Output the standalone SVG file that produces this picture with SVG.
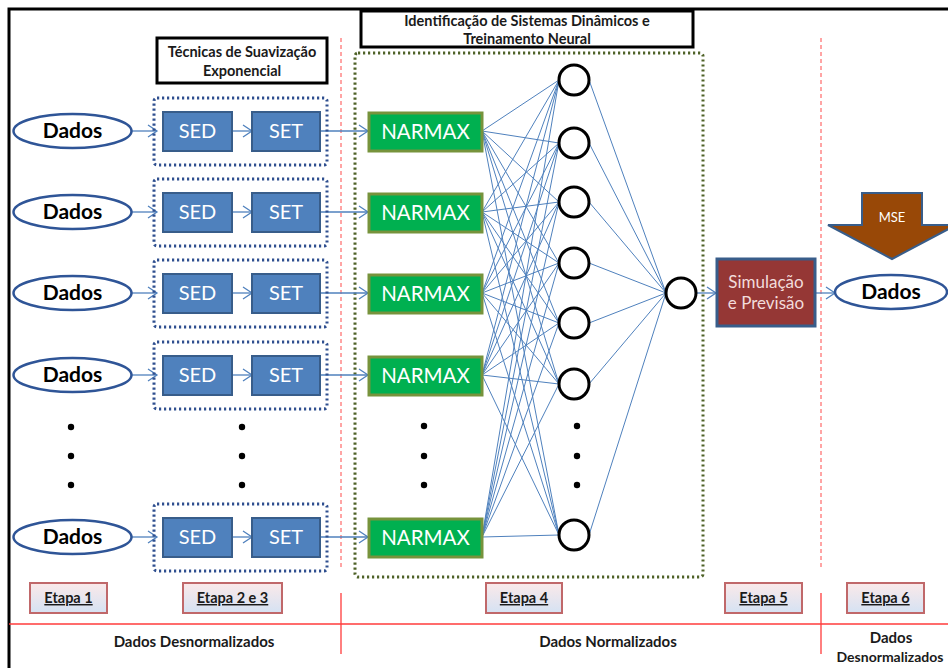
<svg xmlns="http://www.w3.org/2000/svg" width="948" height="668" viewBox="0 0 948 668">
<defs>
<marker id="arr" markerUnits="userSpaceOnUse" markerWidth="12" markerHeight="14" refX="10" refY="7" orient="auto">
<path d="M1,1 L10,7 L1,13" fill="none" stroke="#4f81bd" stroke-width="1.3"/>
</marker>
<linearGradient id="etg" x1="0" y1="0" x2="0" y2="1">
<stop offset="0" stop-color="#fbe9e9"/>
<stop offset="1" stop-color="#d5e2f3"/>
</linearGradient>
<style>
.t{font-family:Lato,"Liberation Sans",sans-serif;}
.dados{fill:#fff;stroke:#2f5597;stroke-width:2.5;}
.dt{font-family:Lato,"Liberation Sans",sans-serif;font-weight:bold;font-size:21px;fill:#000;text-anchor:middle;}
.grp{fill:none;stroke:#2f4f8f;stroke-width:3;stroke-dasharray:2.2 2.8;}
.blk{fill:#4f81bd;stroke:#385d8a;stroke-width:2;}
.bt{font-family:Lato,"Liberation Sans",sans-serif;font-size:20px;fill:#fff;text-anchor:middle;}
.nx{fill:#00b050;stroke:#77933c;stroke-width:3;}
.nxt{font-family:Lato,"Liberation Sans",sans-serif;font-size:20.5px;fill:#fff;text-anchor:middle;}
.neu{fill:#fff;stroke:#000;stroke-width:3;}
.cn{stroke:#4f81bd;stroke-width:1;fill:none;}
.ar{stroke:#4f81bd;stroke-width:1.3;fill:none;marker-end:url(#arr);}
.hdr{fill:#fff;stroke:#000;stroke-width:3;}
.ht{font-family:Lato,"Liberation Sans",sans-serif;font-weight:bold;font-size:14.5px;fill:#1a1a1a;text-anchor:middle;}
.et{fill:url(#etg);stroke:#c0686a;stroke-width:2;}
.ett{font-family:Lato,"Liberation Sans",sans-serif;font-weight:bold;font-size:14.5px;fill:#1a1a1a;text-anchor:middle;text-decoration:underline;}
.bl{font-family:Lato,"Liberation Sans",sans-serif;font-weight:bold;font-size:15px;fill:#1a1a1a;text-anchor:middle;}
.rd{stroke:#ff4b4b;stroke-width:1;stroke-dasharray:4 3;}
.rs{stroke:#ff3b3b;stroke-width:1.3;}
</style>
</defs>

<rect x="0" y="0" width="948" height="668" fill="#fff"/>
<rect x="9" y="9" width="970" height="700" fill="none" stroke="#000" stroke-width="3"/>

<g id="dividers">
<line class="rd" x1="341" y1="38" x2="341" y2="570"/>
<line class="rd" x1="821" y1="38" x2="821" y2="570"/>
<line class="rs" x1="341" y1="593" x2="341" y2="654"/>
<line class="rs" x1="821" y1="593" x2="821" y2="654"/>
<line class="rs" x1="9" y1="624" x2="948" y2="624"/>
</g>

<g id="hdr1">
<rect class="hdr" x="157" y="38" width="170" height="45"/>
<text class="ht" x="242" y="57">Técnicas de Suavização</text>
<text class="ht" x="242" y="76">Exponencial</text>
</g>
<g id="hdr2">
<rect class="hdr" x="361" y="11" width="332" height="36"/>
<text class="ht" x="527" y="26">Identificação de Sistemas Dinâmicos e</text>
<text class="ht" x="527" y="44">Treinamento Neural</text>
</g>

<g id="nnbox">
<rect x="355" y="53" width="348" height="524" rx="3" fill="none" stroke="#4f6228" stroke-width="3" stroke-dasharray="2.2 2.8"/>
</g>

<g id="connectors">
<line class="ar" x1="132" y1="131" x2="157" y2="131"/>
<line class="ar" x1="232" y1="131" x2="252" y2="131"/>
<line class="ar" x1="320" y1="131" x2="368" y2="131"/>
<line class="ar" x1="132" y1="212" x2="157" y2="212"/>
<line class="ar" x1="232" y1="212" x2="252" y2="212"/>
<line class="ar" x1="320" y1="212" x2="368" y2="212"/>
<line class="ar" x1="132" y1="293" x2="157" y2="293"/>
<line class="ar" x1="232" y1="293" x2="252" y2="293"/>
<line class="ar" x1="320" y1="293" x2="368" y2="293"/>
<line class="ar" x1="132" y1="375" x2="157" y2="375"/>
<line class="ar" x1="232" y1="375" x2="252" y2="375"/>
<line class="ar" x1="320" y1="375" x2="368" y2="375"/>
<line class="ar" x1="132" y1="537" x2="157" y2="537"/>
<line class="ar" x1="232" y1="537" x2="252" y2="537"/>
<line class="ar" x1="320" y1="537" x2="368" y2="537"/>
<path class="cn" d="M482,131 L559,80 M482,131 L559,143 M482,131 L559,202 M482,131 L559,263 M482,131 L559,323 M482,131 L559,384 M482,131 L559,535
M482,212 L559,80 M482,212 L559,143 M482,212 L559,202 M482,212 L559,263 M482,212 L559,323 M482,212 L559,384 M482,212 L559,535
M482,293 L559,80 M482,293 L559,143 M482,293 L559,202 M482,293 L559,263 M482,293 L559,323 M482,293 L559,384 M482,293 L559,535
M482,375 L559,80 M482,375 L559,143 M482,375 L559,202 M482,375 L559,263 M482,375 L559,323 M482,375 L559,384 M482,375 L559,535
M482,537 L559,80 M482,537 L559,143 M482,537 L559,202 M482,537 L559,263 M482,537 L559,323 M482,537 L559,384 M482,537 L559,535"/>
<path class="cn" d="M589,80 L666,293 M589,143 L666,293 M589,202 L666,293 M589,263 L666,293 M589,323 L666,293 M589,384 L666,293 M589,535 L666,293"/>
<line class="ar" x1="696" y1="293" x2="716" y2="293"/>
<line class="ar" x1="815" y1="293" x2="835" y2="293"/>
</g>

<g id="row1">
<ellipse class="dados" cx="72.5" cy="131" rx="59" ry="17"/>
<text class="dt" x="72.5" y="138">Dados</text>
<rect class="grp" x="154" y="98" width="173" height="67" rx="3"/>
<rect class="blk" x="163" y="112" width="69" height="39"/>
<text class="bt" x="197.5" y="138">SED</text>
<rect class="blk" x="252" y="112" width="68" height="39"/>
<text class="bt" x="286" y="138">SET</text>
<rect class="nx" x="369" y="113" width="113" height="38"/>
<text class="nxt" x="425.5" y="139">NARMAX</text>
</g>
<g id="row2">
<ellipse class="dados" cx="72.5" cy="212" rx="59" ry="17"/>
<text class="dt" x="72.5" y="219">Dados</text>
<rect class="grp" x="154" y="179" width="173" height="67" rx="3"/>
<rect class="blk" x="163" y="193" width="69" height="39"/>
<text class="bt" x="197.5" y="219">SED</text>
<rect class="blk" x="252" y="193" width="68" height="39"/>
<text class="bt" x="286" y="219">SET</text>
<rect class="nx" x="369" y="194" width="113" height="38"/>
<text class="nxt" x="425.5" y="220">NARMAX</text>
</g>
<g id="row3">
<ellipse class="dados" cx="72.5" cy="293" rx="59" ry="17"/>
<text class="dt" x="72.5" y="300">Dados</text>
<rect class="grp" x="154" y="260" width="173" height="67" rx="3"/>
<rect class="blk" x="163" y="274" width="69" height="39"/>
<text class="bt" x="197.5" y="300">SED</text>
<rect class="blk" x="252" y="274" width="68" height="39"/>
<text class="bt" x="286" y="300">SET</text>
<rect class="nx" x="369" y="275" width="113" height="38"/>
<text class="nxt" x="425.5" y="301">NARMAX</text>
</g>
<g id="row4">
<ellipse class="dados" cx="72.5" cy="375" rx="59" ry="17"/>
<text class="dt" x="72.5" y="382">Dados</text>
<rect class="grp" x="154" y="342" width="173" height="67" rx="3"/>
<rect class="blk" x="163" y="356" width="69" height="39"/>
<text class="bt" x="197.5" y="382">SED</text>
<rect class="blk" x="252" y="356" width="68" height="39"/>
<text class="bt" x="286" y="382">SET</text>
<rect class="nx" x="369" y="357" width="113" height="38"/>
<text class="nxt" x="425.5" y="383">NARMAX</text>
</g>
<g id="row5">
<ellipse class="dados" cx="72.5" cy="537" rx="59" ry="17"/>
<text class="dt" x="72.5" y="544">Dados</text>
<rect class="grp" x="154" y="504" width="173" height="67" rx="3"/>
<rect class="blk" x="163" y="518" width="69" height="39"/>
<text class="bt" x="197.5" y="544">SED</text>
<rect class="blk" x="252" y="518" width="68" height="39"/>
<text class="bt" x="286" y="544">SET</text>
<rect class="nx" x="369" y="519" width="113" height="38"/>
<text class="nxt" x="425.5" y="545">NARMAX</text>
</g>

<g id="ellipsis" fill="#000">
<circle cx="71" cy="427" r="3.2"/><circle cx="71" cy="456" r="3.2"/><circle cx="71" cy="485" r="3.2"/>
<circle cx="242" cy="427" r="3.2"/><circle cx="242" cy="456" r="3.2"/><circle cx="242" cy="485" r="3.2"/>
<circle cx="424" cy="426" r="3.2"/><circle cx="424" cy="456" r="3.2"/><circle cx="424" cy="485" r="3.2"/>
<circle cx="577" cy="426" r="3.2"/><circle cx="577" cy="456" r="3.2"/><circle cx="577" cy="485" r="3.2"/>
</g>

<g id="hidden">
<circle class="neu" cx="574" cy="80" r="15"/>
<circle class="neu" cx="574" cy="143" r="15"/>
<circle class="neu" cx="574" cy="202" r="15"/>
<circle class="neu" cx="574" cy="263" r="15"/>
<circle class="neu" cx="574" cy="323" r="15"/>
<circle class="neu" cx="574" cy="384" r="15"/>
<circle class="neu" cx="574" cy="535" r="15"/>
</g>
<g id="output">
<circle class="neu" cx="681" cy="293" r="15"/>
</g>

<g id="sim">
<rect x="717" y="259" width="98" height="67" fill="#953735" stroke="#385d8a" stroke-width="3"/>
<text class="t" x="766" y="288" font-size="17" fill="#f2dcdb" text-anchor="middle">Simulação</text>
<text class="t" x="766" y="309" font-size="17" fill="#f2dcdb" text-anchor="middle">e Previsão</text>
</g>

<g id="mse">
<path d="M862,193 L922,193 L922,225 L956,225 L892,259 L828,225 L862,225 Z" fill="#984807" stroke="#385d8a" stroke-width="2"/>
<text class="t" x="892" y="222" font-size="13" fill="#fff" text-anchor="middle">MSE</text>
</g>

<g id="dados-out">
<ellipse class="dados" cx="891" cy="292" rx="56" ry="17"/>
<text class="dt" x="891" y="299">Dados</text>
</g>

<g id="etapas">
<rect class="et" x="30" y="583" width="77" height="30"/>
<text class="ett" x="68.5" y="603">Etapa 1</text>
<rect class="et" x="183" y="583" width="99" height="30"/>
<text class="ett" x="232.5" y="603">Etapa 2 e 3</text>
<rect class="et" x="486" y="583" width="76" height="30"/>
<text class="ett" x="524" y="603">Etapa 4</text>
<rect class="et" x="725" y="583" width="77" height="30"/>
<text class="ett" x="763.5" y="603">Etapa 5</text>
<rect class="et" x="847" y="583" width="77" height="30"/>
<text class="ett" x="885.5" y="603">Etapa 6</text>
</g>

<g id="bottom">
<text class="bl" x="194" y="647">Dados Desnormalizados</text>
<text class="bl" x="608" y="647">Dados Normalizados</text>
<text class="bl" x="891" y="643" font-size="14.5">Dados</text>
<text class="bl" x="890" y="662" style="font-size:14px">Desnormalizados</text>
</g>
</svg>
